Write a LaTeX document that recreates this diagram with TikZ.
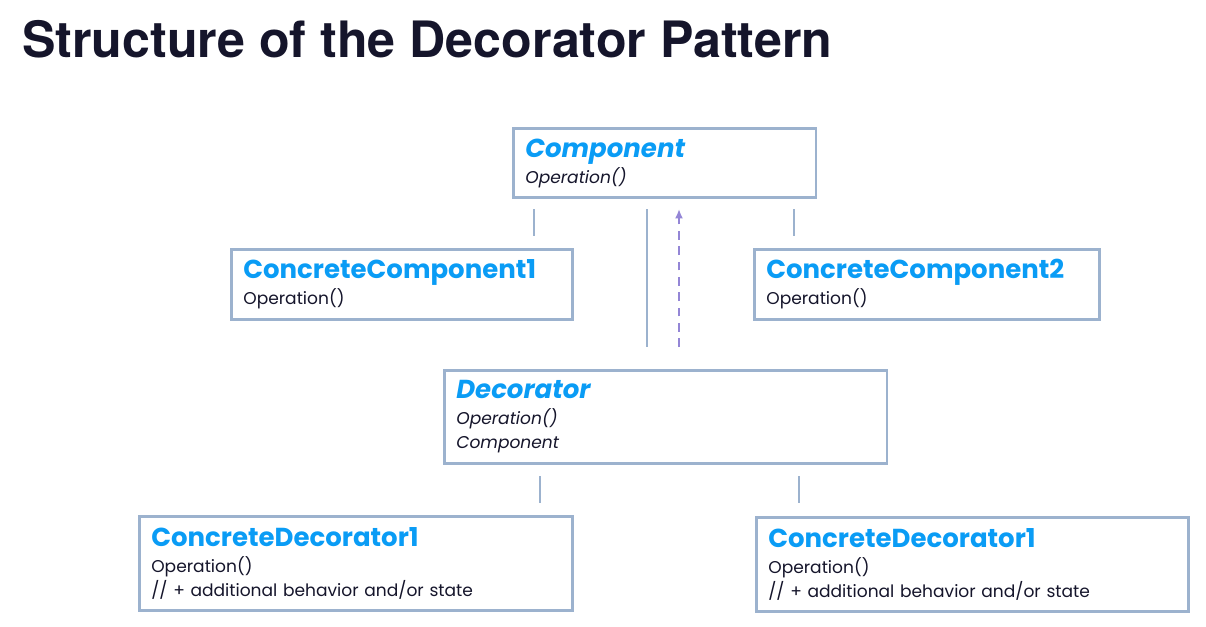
\documentclass[tikz,border=0pt]{standalone}
\usepackage{fontspec}
\setmainfont{Poppins}
\newfontfamily\titlefont{TeX Gyre Heros}
\usetikzlibrary{arrows.meta}
\definecolor{bord}{HTML}{9CB2CE}
\definecolor{ttl}{HTML}{0A9CF5}
\definecolor{ink}{HTML}{15152B}
\definecolor{dashc}{HTML}{9486D6}
\newcommand{\bt}[1]{{\fontsize{19.5}{22}\selectfont\bfseries\color{ttl}#1}}
\newcommand{\bti}[1]{{\fontsize{19.5}{22}\selectfont\bfseries\itshape\color{ttl}#1}}
\begin{document}
\begin{tikzpicture}[x=0.75pt,y=-0.75pt,
  box/.style={draw=bord, line width=2pt, anchor=north west, align=left,
    inner xsep=9pt, inner ysep=0pt, text=ink, text width=#1,
    font=\fontsize{12.8}{18}\selectfont},
  link/.style={draw=bord, line width=2pt},
  uses/.style={draw=dashc, line width=1.6pt, dash pattern=on 6.5pt off 5pt, -{Latex[length=7pt,width=6pt]}}]
\useasboundingbox (0,0) rectangle (1206,626);
\node[anchor=base west, inner sep=0pt, text=ink, font=\titlefont\fontsize{37.6}{44}\selectfont\bfseries] (title) at (22,57) {Structure of the Decorator Pattern};

\node[box=209pt, minimum height=52pt] (comp) at (512,127) {\bti{Component}\\[1.5pt]{\itshape Operation()}};
\node[box=238pt, minimum height=52.5pt] (cc1) at (230,248) {\bt{ConcreteComponent1}\\[1.5pt]Operation()};
\node[box=241pt, minimum height=52.5pt] (cc2) at (753,248) {\bt{ConcreteComponent2}\\[1.5pt]Operation()};
\node[box=314pt, minimum height=70pt] (deco) at (443,369) {\bti{Decorator}\\[1.5pt]{\itshape Operation()}\\{\itshape Component}};
\node[box=307pt, minimum height=70.5pt] (cd1) at (138,515) {\bt{ConcreteDecorator1}\\[1.5pt]Operation()\\// + additional behavior and/or state};
\node[box=306pt, minimum height=70.5pt] (cd2) at (755,516) {\bt{ConcreteDecorator1}\\[1.5pt]Operation()\\// + additional behavior and/or state};

\coordinate (a1) at (534,209); \coordinate (a2) at (534,236);
\coordinate (b1) at (794,209); \coordinate (b2) at (794,236);
\coordinate (c1) at (647,209); \coordinate (c2) at (647,347);
\coordinate (d1) at (679,347); \coordinate (d2) at (679,209);
\coordinate (e1) at (540,476); \coordinate (e2) at (540,503);
\coordinate (f1) at (799,476); \coordinate (f2) at (799,503);
\draw[link] (a1) -- (a2);
\draw[link] (b1) -- (b2);
\draw[link] (c1) -- (c2);
\draw[uses] (d1) -- (d2);
\draw[link] (e1) -- (e2);
\draw[link] (f1) -- (f2);
\end{tikzpicture}
\end{document}
